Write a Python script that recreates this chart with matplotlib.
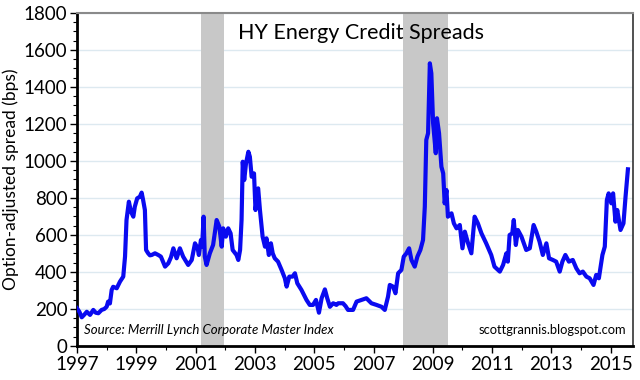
import matplotlib
matplotlib.use('Agg')
import matplotlib.pyplot as plt
from matplotlib.ticker import MultipleLocator

plt.rcParams['font.family'] = ['Lato', 'DejaVu Sans']

# spread readings (decimal year, bps)
years = [
    1997.00, 1997.08, 1997.16, 1997.25, 1997.33, 1997.44, 1997.55, 1997.63, 1997.72, 1997.83,
    1997.92, 1998.00, 1998.05, 1998.11, 1998.17, 1998.22, 1998.34, 1998.45, 1998.56, 1998.62,
    1998.67, 1998.75, 1998.82, 1998.90, 1998.95, 1999.03, 1999.12, 1999.18, 1999.23, 1999.29,
    1999.33, 1999.40, 1999.46, 1999.52, 1999.63, 1999.74, 1999.83, 1999.97, 2000.08, 2000.17,
    2000.25, 2000.36, 2000.47, 2000.58, 2000.75, 2000.87, 2000.98, 2001.07, 2001.11, 2001.18,
    2001.22, 2001.27, 2001.31, 2001.37, 2001.48, 2001.59, 2001.71, 2001.80, 2001.88, 2001.93,
    2002.02, 2002.10, 2002.18, 2002.25, 2002.38, 2002.44, 2002.50, 2002.55, 2002.59, 2002.64,
    2002.70, 2002.78, 2002.83, 2002.89, 2002.97, 2003.02, 2003.11, 2003.17, 2003.26, 2003.34,
    2003.39, 2003.47, 2003.54, 2003.60, 2003.67, 2003.78, 2003.90, 2004.01, 2004.07, 2004.16,
    2004.27, 2004.35, 2004.43, 2004.57, 2004.74, 2004.85, 2004.96, 2005.06, 2005.16, 2005.25,
    2005.36, 2005.44, 2005.53, 2005.64, 2005.75, 2005.81, 2005.97, 2006.06, 2006.14, 2006.31,
    2006.43, 2006.60, 2006.76, 2006.93, 2007.10, 2007.27, 2007.38, 2007.49, 2007.55, 2007.66,
    2007.74, 2007.83, 2007.94, 2008.02, 2008.11, 2008.20, 2008.28, 2008.39, 2008.48, 2008.58,
    2008.67, 2008.73, 2008.78, 2008.84, 2008.90, 2008.95, 2009.01, 2009.10, 2009.14, 2009.21,
    2009.29, 2009.35, 2009.40, 2009.46, 2009.51, 2009.63, 2009.71, 2009.80, 2009.91, 2010.00,
    2010.08, 2010.19, 2010.30, 2010.41, 2010.52, 2010.64, 2010.80, 2010.97, 2011.08, 2011.26,
    2011.37, 2011.48, 2011.53, 2011.59, 2011.68, 2011.73, 2011.80, 2011.87, 2011.99, 2012.15,
    2012.27, 2012.40, 2012.49, 2012.60, 2012.71, 2012.83, 2012.92, 2013.05, 2013.16, 2013.28,
    2013.37, 2013.47, 2013.59, 2013.72, 2013.84, 2013.95, 2014.06, 2014.18, 2014.29, 2014.42,
    2014.51, 2014.60, 2014.72, 2014.80, 2014.87, 2014.93, 2015.02, 2015.08, 2015.16, 2015.22,
    2015.33, 2015.43, 2015.50, 2015.58,
]
spread = [
    204, 185, 155, 170, 185, 168, 195, 180, 177, 195,
    200, 212, 240, 230, 303, 320, 312, 348, 375, 483,
    681, 780, 726, 699, 753, 798, 807, 829, 789, 735,
    519, 501, 490, 492, 501, 492, 483, 429, 447, 480,
    528, 474, 528, 483, 438, 465, 555, 528, 492, 573,
    537, 699, 483, 438, 501, 546, 681, 645, 537, 636,
    591, 636, 609, 519, 492, 465, 519, 681, 996, 897,
    987, 1050, 1023, 915, 933, 735, 852, 735, 591, 537,
    582, 492, 555, 501, 474, 456, 411, 366, 321, 375,
    375, 393, 339, 303, 249, 222, 222, 249, 180, 258,
    306, 258, 212, 231, 222, 231, 231, 215, 195, 195,
    240, 249, 258, 231, 222, 212, 195, 267, 330, 321,
    285, 393, 411, 483, 501, 528, 465, 429, 483, 519,
    573, 753, 1114, 1150, 1528, 1474, 1204, 1042, 1231, 1150,
    969, 933, 771, 843, 699, 717, 663, 636, 654, 528,
    618, 555, 501, 699, 663, 609, 555, 492, 429, 402,
    438, 501, 456, 600, 609, 681, 546, 627, 591, 519,
    528, 654, 618, 564, 492, 555, 474, 465, 456, 402,
    456, 492, 456, 465, 420, 393, 402, 375, 366, 330,
    384, 366, 492, 537, 789, 825, 771, 825, 672, 735,
    627, 663, 807, 955,
]

recessions = [(2001.18, 2001.95), (2007.99, 2009.50)]
year_labels = list(range(1997, 2016, 2))

fig = plt.figure(figsize=(6.4, 3.8), dpi=100)
ax = fig.add_axes([0.1203, 0.0895, 0.8687, 0.8763])

for start, end in recessions:
    ax.axvspan(start, end, color='#c8c8c8', lw=0, zorder=1)

ax.plot(years, spread, color='#0a0af0', lw=3.0, zorder=3, solid_joinstyle='round')

ax.set_xlim(1997, 2015.75)
ax.set_ylim(0, 1800)
ax.yaxis.set_major_locator(MultipleLocator(200))
ax.yaxis.set_minor_locator(MultipleLocator(50))
ax.set_xticks(year_labels)
ax.set_xticklabels([str(y) for y in year_labels])
ax.xaxis.set_minor_locator(MultipleLocator(1))
ax.grid(axis='y', color='#dde9f0', lw=1, zorder=0)
ax.set_axisbelow(True)

ax.tick_params(axis='both', which='major', labelsize=13.5, direction='out', length=5, width=1, pad=2)
ax.tick_params(axis='both', which='minor', direction='out', length=3, width=0.8)
ax.set_ylabel('Option-adjusted spread (bps)', fontsize=12.5, labelpad=3)

ax.spines['left'].set_linewidth(2)
ax.spines['bottom'].set_linewidth(2)
ax.spines['top'].set_color('#8a8a8a')
ax.spines['top'].set_linewidth(1.5)
ax.spines['right'].set_color('#333333')
ax.spines['right'].set_linewidth(1.2)

ax.text(0.51, 0.94, 'HY Energy Credit Spreads', transform=ax.transAxes,
        ha='center', va='center', fontsize=15.5, zorder=4)
ax.text(0.012, 0.03, 'Source: Merrill Lynch Corporate Master Index', transform=ax.transAxes,
        ha='left', va='bottom', fontsize=9.5, style='italic', zorder=4)
ax.text(0.988, 0.03, 'scottgrannis.blogspot.com', transform=ax.transAxes,
        ha='right', va='bottom', fontsize=9.3, zorder=4)

fig.savefig('out.png', dpi=100)
